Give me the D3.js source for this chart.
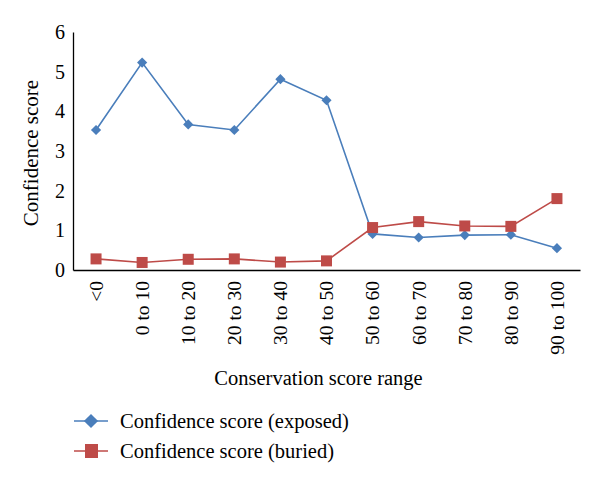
<!DOCTYPE html>
<html>
<head>
<meta charset="utf-8">
<script src="https://cdn.jsdelivr.net/npm/d3@7"></script>
<style>
  body { margin: 0; background: #fff; }
  svg text { font-family: "Liberation Serif", "DejaVu Serif", serif; fill: #000; }
</style>
</head>
<body>
<svg id="chart" width="600" height="484"></svg>
<script>
var categories = ["<0", "0 to 10", "10 to 20", "20 to 30", "30 to 40", "40 to 50",
                  "50 to 60", "60 to 70", "70 to 80", "80 to 90", "90 to 100"];
var exposed = [3.53, 5.23, 3.67, 3.53, 4.81, 4.28, 0.91, 0.82, 0.88, 0.89, 0.55];
var buried = [0.28, 0.19, 0.27, 0.28, 0.20, 0.23, 1.07, 1.22, 1.11, 1.10, 1.80];
var yTicks = [0, 1, 2, 3, 4, 5, 6];
var seriesNames = ["Confidence score (exposed)", "Confidence score (buried)"];

var svg = d3.select("#chart");
var margin = {top: 32, right: 20, bottom: 214, left: 73},
    width = 600 - margin.left - margin.right,
    height = 484 - margin.top - margin.bottom;

var blue = "#4a7ebb", red = "#be4b48";

var x = d3.scaleBand().domain(categories).range([0, width]);
var y = d3.scaleLinear().domain([0, 6]).range([height, 0]);

var g = svg.append("g")
    .attr("transform", "translate(" + margin.left + "," + margin.top + ")");

// y axis
var yAxis = g.append("g")
    .call(d3.axisLeft(y).tickValues(yTicks).tickSize(0).tickPadding(8).tickFormat(d3.format("d")));
yAxis.select(".domain").attr("stroke", "#000").attr("stroke-width", 1.3);
yAxis.selectAll("text").style("font-size", "20px");

// x axis
var xAxis = g.append("g")
    .attr("transform", "translate(0," + height + ")")
    .call(d3.axisBottom(x).tickSize(0).tickPadding(0));
xAxis.select(".domain").attr("stroke", "#000").attr("stroke-width", 1.3);
xAxis.selectAll("text")
    .style("font-size", "19.5px")
    .attr("text-anchor", "end")
    .attr("transform", "rotate(-90)")
    .attr("x", -11)
    .attr("y", 0)
    .attr("dy", "0.35em");

// axis titles
svg.append("text")
    .attr("transform", "translate(38," + (margin.top + height / 2 + 2) + ") rotate(-90)")
    .attr("text-anchor", "middle")
    .style("font-size", "21px")
    .text("Confidence score");

svg.append("text")
    .attr("x", margin.left + width / 2 - 8)
    .attr("y", 385)
    .attr("text-anchor", "middle")
    .style("font-size", "20.5px")
    .text("Conservation score range");

var line = d3.line()
    .x(function(d, i) { return x(categories[i]) + x.bandwidth() / 2; })
    .y(function(d) { return y(d); });

// exposed series
g.append("path").datum(exposed)
    .attr("fill", "none").attr("stroke", blue).attr("stroke-width", 1.6)
    .attr("d", line);
g.selectAll(".dia").data(exposed).enter().append("rect")
    .attr("class", "dia")
    .attr("x", -3.6).attr("y", -3.6).attr("width", 7.2).attr("height", 7.2)
    .attr("fill", blue)
    .attr("transform", function(d, i) {
        return "translate(" + (x(categories[i]) + x.bandwidth() / 2) + "," + y(d) + ") rotate(45)";
    });

// buried series
g.append("path").datum(buried)
    .attr("fill", "none").attr("stroke", red).attr("stroke-width", 1.6)
    .attr("d", line);
g.selectAll(".sq").data(buried).enter().append("rect")
    .attr("class", "sq")
    .attr("width", 11).attr("height", 11)
    .attr("fill", red)
    .attr("x", function(d, i) { return x(categories[i]) + x.bandwidth() / 2 - 5.5; })
    .attr("y", function(d) { return y(d) - 5.5; });

// legend
var legend = svg.selectAll(".legend")
    .data(seriesNames)
    .enter().append("g")
    .attr("class", "legend")
    .attr("transform", function(d, i) { return "translate(74," + (421 + i * 30) + ")"; });

legend.append("line")
    .attr("x1", 0).attr("x2", 34).attr("y1", 0).attr("y2", 0)
    .attr("stroke", function(d, i) { return i === 0 ? blue : red; })
    .attr("stroke-width", 1.6);

legend.each(function(d, i) {
    var el = d3.select(this);
    if (i === 0) {
        el.append("rect").attr("x", -5).attr("y", -5).attr("width", 10).attr("height", 10)
            .attr("fill", blue).attr("transform", "translate(17,0) rotate(45)");
    } else {
        el.append("rect").attr("x", 11).attr("y", -7).attr("width", 13).attr("height", 14)
            .attr("fill", red);
    }
});

legend.append("text")
    .attr("x", 46)
    .attr("y", 0)
    .attr("dy", "0.32em")
    .style("font-size", "20.5px")
    .text(function(d) { return d; });
</script>
</body>
</html>
